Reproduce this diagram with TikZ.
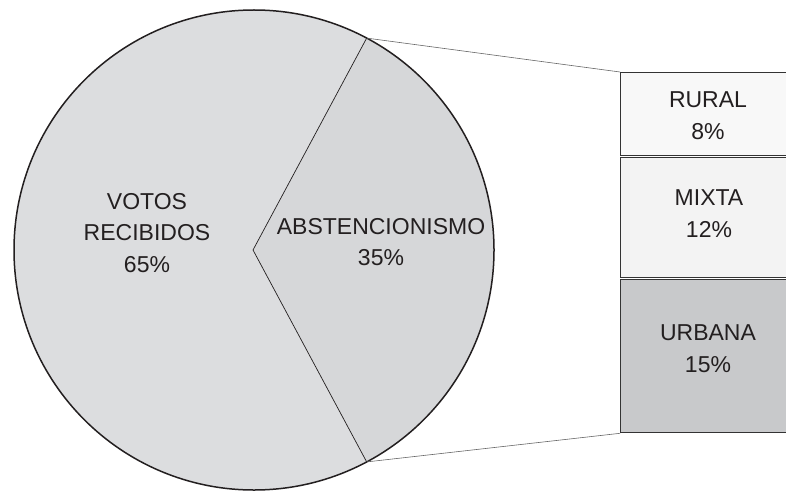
\documentclass[tikz,border=0pt]{standalone}
\usepackage{fontspec}
\setmainfont{Liberation Sans}
\usetikzlibrary{calc}
\definecolor{pieA}{HTML}{DCDDDF}
\definecolor{pieB}{HTML}{D6D7D9}
\definecolor{boxA}{HTML}{F8F8F8}
\definecolor{boxB}{HTML}{F3F3F3}
\definecolor{boxC}{HTML}{C8C9CB}
\definecolor{ink}{HTML}{231F20}
\definecolor{edge}{HTML}{333333}
\begin{document}
\begin{tikzpicture}[x=1pt,y=-1pt,
  lbl/.style={font=\fontsize{23}{31.5}\selectfont, text=ink, align=center, inner sep=0pt},
  segbox/.style={draw=edge, line width=1.3pt, anchor=north west, minimum width=176pt, inner sep=0pt},
  thinline/.style={draw=ink, line width=0.7pt},
  linkline/.style={draw=black!60, line width=0.6pt}]
\useasboundingbox (0,0) rectangle (786,492);
\clip (0,0) rectangle (786,492);
\coordinate (C) at (254,250);
\coordinate (V) at (253,250);
\coordinate (T) at ($(C)+(-62:240)$);
\coordinate (B) at ($(C)+(62:240)$);
% pie
\fill[pieA] (C) circle[radius=240];
\fill[pieB] (V) -- (T) arc[start angle=-62, end angle=62, radius=240] -- cycle;
\draw[thinline] (T) -- (V) -- (B);
\draw[ink, line width=1.5pt] (C) circle[radius=240];
% boxes
\node[segbox, fill=boxA, minimum height=83pt] (rural) at (620,72) {};
\node[segbox, fill=boxB, minimum height=120pt] (mixta) at (620,157) {};
\node[segbox, fill=boxC, minimum height=153pt] (urbana) at (620,279) {};
\node[lbl] (ruralt) at (708,115.5) {RURAL\\8\%};
\node[lbl] (mixtat) at (709,213.5) {MIXTA\\12\%};
\node[lbl] (urbanat) at (708,348.5) {URBANA\\15\%};
% connectors
\draw[linkline] (T) -- (rural.north west);
\draw[linkline] (B) -- (urbana.south west);
% labels
\node[lbl] (votos) at (147,233) {VOTOS\\RECIBIDOS\\65\%};
\node[lbl] (abst) at (381,242) {ABSTENCIONISMO\\35\%};
\end{tikzpicture}
\end{document}
